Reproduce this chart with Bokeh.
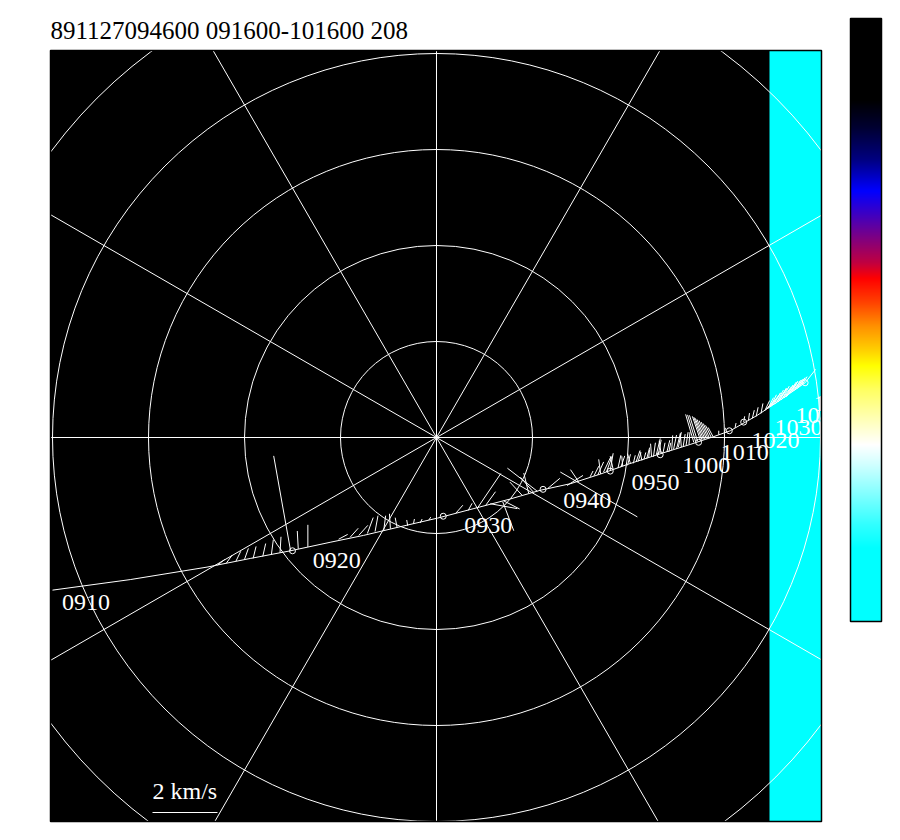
import numpy as np
from bokeh.plotting import figure
from bokeh.models import Range1d
from bokeh.core.properties import value
from bokeh.embed import file_html
from bokeh.resources import INLINE

TITLE = "891127094600 091600-101600 208"

# polar grid (rings in plot units, spokes in degrees)
ring_radii = [1, 2, 3, 4, 5]
spoke_angles = list(range(0, 360, 30))

# track of the footprint (plot units, ring spacing = 1)
track_x = [-4.00, -3.19, -2.39, -1.94, -1.52, -1.10, -0.76, -0.38, 0.01, 0.39, 0.77,
           1.08, 1.40, 1.71, 1.99, 2.33, 2.65, 2.89, 3.06, 3.34, 3.58, 3.84, 3.95]
track_y = [-1.59, -1.48, -1.35, -1.26, -1.18, -1.09, -1.02, -0.93, -0.84, -0.74, -0.64,
           -0.55, -0.48, -0.38, -0.28, -0.17, -0.07, 0.01, 0.07, 0.23, 0.39, 0.57, 0.71]

# time labels
time_labels = ["0910", "0920", "0930", "0940", "0950", "1000", "1010", "1020", "1030", "1040", "1050"]
label_x = [-3.90, -1.29, 0.29, 1.32, 2.03, 2.56, 2.96, 3.28, 3.52, 3.74, 3.93]
label_y = [-1.82, -1.39, -1.02, -0.76, -0.57, -0.40, -0.26, -0.14, 0.00, 0.12, 0.25]

# small open circles on the track
marker_x = [-1.50, 0.07, 1.11, 1.81, 2.33, 2.73, 3.05, 3.20, 3.84]
marker_y = [-1.18, -0.82, -0.54, -0.35, -0.18, -0.05, 0.07, 0.16, 0.57]

# velocity vectors: base (plot units) and components (km/s)
vec_x = [
    -2.28, -2.19, -2.09, -2.00, -1.91, -1.81, -1.72, -1.63, -1.52, -1.44, -1.34,
    -1.02, -0.90, -0.81, -0.72, -0.64, -0.55, -0.48, -0.41, -0.30, -0.24, -0.17, -0.08,
    0.20, 0.33, 0.43, 0.51, 0.56, 0.70, 0.69, 0.89, 0.96, 1.01, 1.05, 1.16, 1.29, 1.36, 1.48,
    1.60, 1.68, 1.74, 1.81, 1.89, 1.94, 1.99, 2.05, 2.10, 2.16, 2.21, 2.26, 2.31, 2.36, 2.42,
    2.47, 2.52, 2.57, 2.63,
    1.64, 1.71, 1.77, 1.84, 1.92, 2.02, 2.08, 2.14, 2.19, 2.24, 2.29, 2.34, 2.40, 2.45,
    2.50, 2.55, 2.60,
    2.68, 2.70, 2.72, 2.75, 2.765, 2.78, 2.795, 2.81, 2.825, 2.84, 2.86, 2.88,
    2.94, 3.00, 3.11, 3.20, 3.25, 3.29, 3.33, 3.38,
    3.42, 3.45, 3.48, 3.51, 3.54, 3.57, 3.60, 3.64, 3.67, 3.70, 3.73, 3.76, 3.79,
    3.43, 3.46, 3.49, 3.53, 3.56, 3.59, 3.62, 3.65, 3.68, 3.71, 3.74, 3.78, 3.81,
]
vec_y = [
    -1.33, -1.31, -1.29, -1.27, -1.26, -1.24, -1.22, -1.20, -1.18, -1.16, -1.14,
    -1.06, -1.04, -1.02, -1.00, -0.98, -0.97, -0.95, -0.94, -0.92, -0.90, -0.89, -0.86,
    -0.79, -0.76, -0.73, -0.71, -0.69, -0.66, -0.67, -0.60, -0.58, -0.57, -0.56, -0.53, -0.36, -0.50, -0.46,
    -0.41, -0.39, -0.36, -0.34, -0.32, -0.30, -0.29, -0.27, -0.25, -0.23, -0.21, -0.20, -0.18, -0.16, -0.15,
    -0.12, -0.10, -0.09, -0.07,
    -0.40, -0.38, -0.36, -0.33, -0.31, -0.27, -0.25, -0.24, -0.22, -0.20, -0.18, -0.17, -0.15, -0.13,
    -0.12, -0.10, -0.08,
    -0.05, -0.045, -0.04, -0.03, -0.025, -0.02, -0.015, -0.01, -0.005, 0.00, 0.005, 0.01,
    0.03, 0.05, 0.10, 0.16, 0.18, 0.20, 0.22, 0.25,
    0.28, 0.30, 0.32, 0.34, 0.36, 0.38, 0.40, 0.42, 0.45, 0.47, 0.49, 0.51, 0.54,
    0.29, 0.31, 0.33, 0.35, 0.37, 0.39, 0.41, 0.43, 0.46, 0.48, 0.50, 0.53, 0.55,
]
vec_u = [
    0.22, 0.18, 0.15, 0.12, 0.09, 0.09, 0.06, 0.03, -0.52, -0.03, 0.00,
    0.28, 0.25, 0.28, 0.18, 0.09, 0.06, -0.03, -0.06, -0.03, 0.03, 0.06, 0.06,
    0.22, 0.12, 0.71, 0.31, 0.83, 0.49, 0.34, -0.37, -0.15, -0.40, -0.92, 0.37, 2.37, 0.49, -0.25,
    0.09, 0.18, 0.22, 0.09, 0.09, -0.03, 0.09, 0.06, 0.09, 0.06, 0.03, 0.06, 0.09, 0.06, 0.06,
    0.09, 0.09, 0.06, 0.03,
    0.15, -0.06, 0.18, -0.09, 0.12, -0.09, 0.12, -0.06, 0.09, -0.03, 0.12, -0.06, 0.09, 0.03,
    0.12, -0.03, 0.06,
    -0.25, -0.25, -0.25, -0.25, -0.25, -0.25, -0.24, -0.22, -0.20, -0.18, -0.17, -0.15,
    0.00, 0.03, 0.03, 0.03, 0.03, 0.06, 0.06, 0.06,
    0.15, 0.18, 0.18, 0.22, 0.22, 0.22, 0.22, 0.22, 0.22, 0.18, 0.18, 0.15, 0.12,
    0.28, 0.31, 0.28, 0.31, 0.28, 0.31, 0.28, 0.28, 0.25, 0.25, 0.22, 0.18, 0.15,
]
vec_v = [
    0.18, 0.25, 0.31, 0.34, 0.37, 0.40, 0.46, 0.49, 2.92, 0.55, 0.68,
    0.15, 0.28, 0.31, 0.49, 0.49, 0.46, 0.46, 0.31, 0.18, 0.15, 0.12, 0.09,
    0.25, 0.22, 1.05, 0.43, -0.15, -0.25, -0.89, 0.40, 0.62, 0.46, 0.71, 0.31, -1.38, 0.31, 0.37,
    0.18, 0.40, 0.46, 0.52, 0.40, 0.31, 0.34, 0.25, 0.28, 0.22, 0.25, 0.43, 0.46, 0.31, 0.28,
    0.43, 0.46, 0.37, 0.37,
    0.30, 0.45, 0.50, 0.40, 0.35, 0.30, 0.34, 0.28, 0.34, 0.40, 0.50, 0.40, 0.36, 0.45,
    0.48, 0.42, 0.40,
    0.86, 0.83, 0.80, 0.74, 0.70, 0.65, 0.60, 0.55, 0.49, 0.43, 0.36, 0.28,
    0.12, 0.15, 0.15, 0.18, 0.22, 0.25, 0.28, 0.31,
    0.31, 0.34, 0.37, 0.37, 0.40, 0.40, 0.40, 0.37, 0.37, 0.34, 0.31, 0.28, 0.22,
    0.31, 0.37, 0.40, 0.43, 0.43, 0.40, 0.40, 0.37, 0.37, 0.34, 0.31, 0.28, 0.25,
]

SCALE_KMS = 2  # length of the reference vector, km/s

# colour bar stops (fraction from top, colour)
cbar_stop = [0.0, 0.135, 0.18, 0.234, 0.286, 0.326, 0.365, 0.405, 0.431, 0.47, 0.51,
             0.55, 0.576, 0.615, 0.661, 0.707, 0.74, 0.79, 0.84, 0.878, 1.0]
cbar_color = ["#000000", "#000000", "#000030", "#000080", "#0000FF", "#4000C0", "#800080",
              "#C00040", "#FF0000", "#FF4000", "#FF9000", "#FFD000", "#FFFF00", "#FFFF60",
              "#FFFFB0", "#FFFFFF", "#D0FFFF", "#80FFFF", "#30FFFF", "#00FFFF", "#00FFFF"]

# ---------------------------------------------------------------------------
PX = 96.0                       # pixels per plot unit
CX, CY = 436.0, 437.0           # pole position on the canvas (px)
W, H = 892, 832
KMS = 65.0 / PX / 2             # plot units per km/s
SERIF = "Liberation Serif"
TXT_DY = -10                    # baseline correction (screen px)

# polar window (plot units)
L, R, B, T = (50 - CX) / PX, (821 - CX) / PX, (CY - 821) / PX, (CY - 50) / PX
BAND_LEFT = (769 - CX) / PX

p = figure(frame_width=W, frame_height=H, min_border=0,
           x_range=Range1d(-CX / PX, (W - CX) / PX), y_range=Range1d((CY - H) / PX, CY / PX),
           output_backend="svg", toolbar_location=None,
           x_axis_location=None, y_axis_location=None)
p.grid.visible = False
p.background_fill_color = "white"
p.border_fill_color = "white"
p.outline_line_color = None

# polar window background and cyan band
p.quad(left=L, right=R, bottom=B, top=T, fill_color="black", line_color=None)
p.quad(left=BAND_LEFT, right=R, bottom=B, top=T, fill_color="#00FFFF", line_color=None)

# grid
p.circle(x=[0] * len(ring_radii), y=[0] * len(ring_radii), radius=ring_radii,
         fill_color=None, line_color="white", line_width=1)
p.ray(x=[0] * len(spoke_angles), y=[0] * len(spoke_angles), length=8, angle=spoke_angles,
      angle_units="deg", line_color="white", line_width=1)

# track, vectors, markers, labels
p.line(track_x, track_y, line_color="white", line_width=1)
vx = np.array(vec_x)
vy = np.array(vec_y)
x1 = vx + np.array(vec_u) * KMS
y1 = vy + np.array(vec_v) * KMS
p.segment(x0=vx, y0=vy, x1=x1, y1=y1, line_color="white", line_width=1)
p.scatter(marker_x, marker_y, marker="circle", size=6, fill_color=None,
          line_color="white", line_width=1)
p.text(x=label_x, y=label_y, text=time_labels, text_font=value(SERIF),
       text_font_size="24px", text_color="white", text_baseline="alphabetic",
       text_align="left", y_offset=TXT_DY)

# reference vector
sx0, sy0 = (152 - CX) / PX, (CY - 812) / PX
p.segment(x0=[sx0], y0=[sy0], x1=[sx0 + SCALE_KMS * KMS], y1=[sy0],
          line_color="white", line_width=1)
p.text(x=[sx0], y=[(CY - 800) / PX], text=[f"{SCALE_KMS} km/s"], text_font=value(SERIF),
       text_font_size="24px", text_color="white", text_baseline="alphabetic",
       text_align="left", y_offset=TXT_DY)

# white masks outside the polar window (clip)
big = 20
p.quad(left=[-big, R, L, L], right=[L, big, R, R],
       bottom=[-big, -big, T, -big], top=[big, big, big, B],
       fill_color="white", line_color=None)
p.quad(left=L, right=R, bottom=B, top=T, fill_color=None, line_color="black", line_width=1.5)

# title
p.text(x=[L], y=[(CY - 40) / PX], text=[TITLE], text_font=value(SERIF),
       text_font_size="25px", text_color="black", text_baseline="alphabetic",
       text_align="left", y_offset=TXT_DY)

# colour bar
N = 603
frac = (np.arange(N) + 0.5) / N          # from top
rgb = np.array([[int(c[1:3], 16), int(c[3:5], 16), int(c[5:7], 16)] for c in cbar_color])
img = np.zeros((N, 1, 4), dtype=np.uint8)
for k in range(3):
    img[:, 0, k] = np.round(np.interp(frac, cbar_stop, rgb[:, k])[::-1]).astype(np.uint8)
img[:, 0, 3] = 255
img32 = img.view(dtype=np.uint32).reshape((N, 1))
cbl, cbr, cbb, cbt = (850 - CX) / PX, (881 - CX) / PX, (CY - 621) / PX, (CY - 18) / PX
p.image_rgba(image=[img32], x=cbl, y=cbb, dw=cbr - cbl, dh=cbt - cbb)
p.quad(left=cbl, right=cbr, bottom=cbb, top=cbt, fill_color=None, line_color="black", line_width=1.5)

open("out.html", "w").write(file_html(p, INLINE))
